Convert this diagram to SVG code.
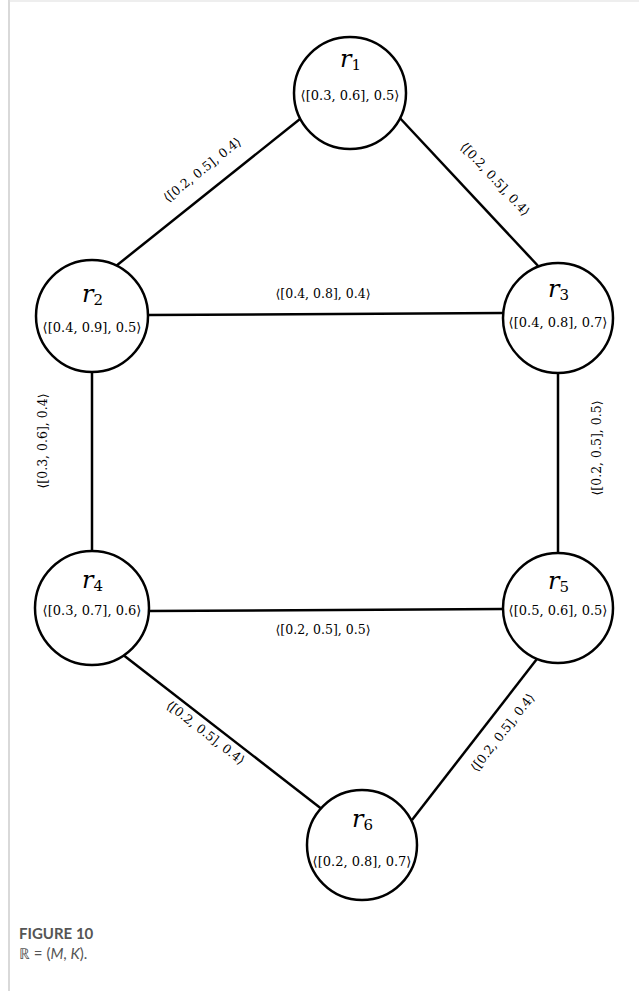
<svg xmlns="http://www.w3.org/2000/svg" width="639" height="991" viewBox="0 0 639 991">
<defs>
<style>
.node{fill:#fff;stroke:#000;stroke-width:2.5}
.edge{stroke:#000;stroke-width:2.5;fill:none}
.cap1{font-weight:bold;font-size:15px;fill:#555}
.cap2{font-size:15px;fill:#555}
</style>
</defs>
<rect x="0" y="0" width="639" height="991" fill="#fff"/>
<line x1="9" y1="0" x2="9" y2="991" stroke="#ccc" stroke-width="1.5"/>
<line x1="9" y1="1" x2="639" y2="1" stroke="#ddd" stroke-width="1"/>
<g id="connectors">
<line class="edge" x1="111" y1="270" x2="305" y2="115"/>
<line class="edge" x1="398" y1="116" x2="540" y2="268"/>
<line class="edge" x1="148" y1="315" x2="503" y2="313"/>
<line class="edge" x1="92" y1="373" x2="92" y2="553"/>
<line class="edge" x1="558" y1="373" x2="558" y2="553"/>
<line class="edge" x1="148" y1="611" x2="503" y2="609"/>
<line class="edge" x1="122" y1="654" x2="323" y2="810"/>
<line class="edge" x1="540" y1="655" x2="412" y2="820"/>
<g font-family="DejaVu Serif, serif" font-size="12.5" fill="#000" text-anchor="middle">
<text transform="translate(205,173) rotate(-38.6)">⟨[0.2, 0.5], 0.4⟩</text>
<text transform="translate(492,182) rotate(47)">⟨[0.2, 0.5], 0.4⟩</text>
<text x="323" y="298">⟨[0.4, 0.8], 0.4⟩</text>
<text transform="translate(47,441) rotate(-90)">⟨[0.3, 0.6], 0.4⟩</text>
<text transform="translate(601,448) rotate(-90)">⟨[0.2, 0.5], 0.5⟩</text>
<text x="323" y="634">⟨[0.2, 0.5], 0.5⟩</text>
<text transform="translate(203,736) rotate(37.8)">⟨[0.2, 0.5], 0.4⟩</text>
<text transform="translate(506,735) rotate(-52)">⟨[0.2, 0.5], 0.4⟩</text>
</g>
</g>
<g font-family="DejaVu Serif, serif" fill="#000">
<g id="r1">
<circle class="node" cx="350" cy="93" r="56"/>
<text x="340" y="67" font-size="24" font-style="italic">r<tspan font-size="15" font-style="normal" dy="3">1</tspan></text>
<text text-anchor="middle" x="350" y="100" font-size="13">⟨[0.3, 0.6], 0.5⟩</text>
</g>
<g id="r2">
<circle class="node" cx="92" cy="316" r="56"/>
<text x="82" y="302" font-size="24" font-style="italic">r<tspan font-size="15" font-style="normal" dy="3">2</tspan></text>
<text text-anchor="middle" x="92" y="332" font-size="13">⟨[0.4, 0.9], 0.5⟩</text>
</g>
<g id="r3">
<circle class="node" cx="558" cy="318" r="55"/>
<text x="548" y="297" font-size="24" font-style="italic">r<tspan font-size="15" font-style="normal" dy="3">3</tspan></text>
<text text-anchor="middle" x="558" y="327" font-size="13">⟨[0.4, 0.8], 0.7⟩</text>
</g>
<g id="r4">
<circle class="node" cx="92" cy="608" r="57"/>
<text x="82" y="588" font-size="24" font-style="italic">r<tspan font-size="15" font-style="normal" dy="3">4</tspan></text>
<text text-anchor="middle" x="92" y="615" font-size="13">⟨[0.3, 0.7], 0.6⟩</text>
</g>
<g id="r5">
<circle class="node" cx="558" cy="608" r="55"/>
<text x="548" y="589" font-size="24" font-style="italic">r<tspan font-size="15" font-style="normal" dy="3">5</tspan></text>
<text text-anchor="middle" x="558" y="615" font-size="13">⟨[0.5, 0.6], 0.5⟩</text>
</g>
<g id="r6">
<circle class="node" cx="362" cy="845" r="55"/>
<text x="352" y="827" font-size="24" font-style="italic">r<tspan font-size="15" font-style="normal" dy="3">6</tspan></text>
<text text-anchor="middle" x="362" y="866" font-size="13">⟨[0.2, 0.8], 0.7⟩</text>
</g>
</g>
<g font-family="Lato, Liberation Sans, sans-serif">
<text class="cap1" x="19" y="939">FIGURE 10</text>
<text class="cap2" x="19" y="959">ℝ = (<tspan font-style="italic">M</tspan>, <tspan font-style="italic">K</tspan>).</text>
</g>
</svg>
